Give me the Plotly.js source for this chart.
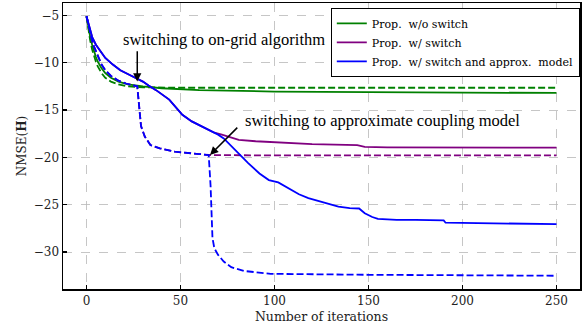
<!DOCTYPE html>
<html>
<head>
<meta charset="utf-8">
<script src="https://cdn.plot.ly/plotly-3.0.1.min.js"></script>
<style>html,body{margin:0;padding:0;background:#fff;}#chart{width:587px;height:326px;}</style>
</head>
<body>
<div id="chart"></div>
<script>
// Prop. w/o switch
const greenSolidX = [0,1,2,3,4,5,6,8,10,13,17,22,30,40,60,100,150,200,250];
const greenSolidY = [-5.1,-6.3,-7.3,-8.1,-8.8,-9.4,-9.9,-10.6,-11.1,-11.6,-12.0,-12.3,-12.5,-12.7,-12.9,-13.05,-13.12,-13.17,-13.2];
const greenDashX = [0,1,2,3,4,5,6,8,10,13,17,22,30,50,100,250];
const greenDashY = [-5.1,-6.6,-7.7,-8.6,-9.3,-9.9,-10.4,-11.1,-11.6,-12.0,-12.3,-12.5,-12.6,-12.65,-12.65,-12.65];

// Prop. w/ switch
const purpleSolidX = [0,1,2,3,5,7,10,14,18,23,27,30,33,37,44,51,56,63,65,68,72,76,81,90,102,120,144,148,160,250];
const purpleSolidY = [-5.1,-5.9,-6.7,-7.3,-8.1,-8.7,-9.5,-10.2,-10.8,-11.3,-11.7,-12.0,-12.4,-12.9,-13.9,-15.5,-16.2,-16.9,-17.1,-17.4,-17.6,-17.85,-18.15,-18.3,-18.45,-18.6,-18.7,-18.9,-18.95,-18.97];
const purpleDashX = [0,1,2,3,4,6,8,10,13,17,21,27,28,29,31,34,39,47,60,65,100,150,200,250];
const purpleDashY = [-5.1,-6.0,-6.9,-7.7,-8.3,-9.3,-10.2,-10.8,-11.4,-11.9,-12.2,-12.5,-15.0,-16.7,-17.8,-18.7,-19.05,-19.4,-19.65,-19.75,-19.8,-19.8,-19.8,-19.8];

// Prop. w/ switch and approx. model
const blueSolidX = [0,1,2,3,5,7,10,14,18,23,27,30,33,37,44,51,56,63,65,70,73,76,81,86,92,97,102,108,113,118,123,128,134,140,145,148,152,155,165,175,190,191,220,250];
const blueSolidY = [-5.1,-5.9,-6.7,-7.3,-8.1,-8.7,-9.5,-10.2,-10.8,-11.3,-11.7,-12.0,-12.4,-12.9,-13.9,-15.5,-16.2,-16.9,-17.1,-17.6,-18.0,-18.6,-19.7,-20.6,-21.7,-22.4,-22.65,-23.3,-23.9,-24.3,-24.6,-24.9,-25.2,-25.35,-25.4,-25.9,-26.3,-26.5,-26.6,-26.6,-26.65,-26.9,-27.0,-27.05];
const blueDashX = [0,1,2,3,4,6,8,10,13,17,21,27,28,29,31,34,39,47,60,65,66,67,68,70,73,77,84,98,150,200,250];
const blueDashY = [-5.1,-6.0,-6.9,-7.7,-8.3,-9.3,-10.2,-10.8,-11.4,-11.9,-12.2,-12.5,-15.0,-16.7,-17.8,-18.7,-19.05,-19.4,-19.65,-19.75,-23.0,-28.5,-29.6,-30.3,-31.0,-31.6,-32.0,-32.3,-32.4,-32.45,-32.5];

const seriesNames = ['Prop.  w/o switch','Prop.  w/ switch','Prop.  w/ switch and approx.  model'];
const xTicks = [0,50,100,150,200,250];
const yTicks = [-30,-25,-20,-15,-10,-5];

const GREEN = '#008000', PURPLE = '#800080', BLUE = '#0000ff';
const LW = 1.8, DASH = '7px,3px';

const traces = [
  {x: greenSolidX, y: greenSolidY, mode: 'lines', name: seriesNames[0], line: {color: GREEN, width: LW}},
  {x: greenDashX, y: greenDashY, mode: 'lines', showlegend: false, line: {color: GREEN, width: LW, dash: DASH}},
  {x: purpleSolidX, y: purpleSolidY, mode: 'lines', name: seriesNames[1], line: {color: PURPLE, width: LW}},
  {x: purpleDashX, y: purpleDashY, mode: 'lines', showlegend: false, line: {color: PURPLE, width: LW, dash: DASH}},
  {x: blueSolidX, y: blueSolidY, mode: 'lines', name: seriesNames[2], line: {color: BLUE, width: LW}},
  {x: blueDashX, y: blueDashY, mode: 'lines', showlegend: false, line: {color: BLUE, width: LW, dash: DASH}}
];

const serif = 'DejaVu Serif, serif';
const times = 'Liberation Serif, Times New Roman, serif';

const layout = {
  width: 587, height: 326,
  margin: {l: 63, r: 7, t: 3, b: 37},
  paper_bgcolor: '#fff', plot_bgcolor: '#fff',
  showlegend: true,
  legend: {
    x: 0.518, y: 0.983, xanchor: 'left', yanchor: 'top',
    bgcolor: '#fff', bordercolor: '#000', borderwidth: 1,
    font: {family: serif, size: 11, color: '#000'},
    tracegroupgap: 0, itemwidth: 30
  },
  xaxis: {
    range: [-12.5, 262.5], tickvals: xTicks, ticktext: xTicks.map(String),
    showgrid: true, gridcolor: '#b8b8b8', griddash: 'dash', gridwidth: 0.8,
    zeroline: false, showline: true, mirror: true, linecolor: '#000', linewidth: 1.5,
    ticks: 'inside', ticklen: 4, tickwidth: 1.5, tickcolor: '#000',
    tickfont: {family: serif, size: 12, color: '#222'},
    title: {text: 'Number of iterations', font: {family: serif, size: 12.5, color: '#222'}, standoff: 5}
  },
  yaxis: {
    range: [-33.9, -3.7], tickvals: yTicks,
    showgrid: true, gridcolor: '#b8b8b8', griddash: 'dash', gridwidth: 0.8,
    zeroline: false, showline: true, mirror: true, linecolor: '#000', linewidth: 1.5,
    ticks: 'inside', ticklen: 4, tickwidth: 1.5, tickcolor: '#000',
    tickfont: {family: serif, size: 12, color: '#222'},
    title: {text: 'NMSE(<b>H</b>)', font: {family: serif, size: 12, color: '#222'}, standoff: 4}
  },
  annotations: [
    {x: 73.4, y: -7.57, xref: 'x', yref: 'y', text: 'switching to on-grid algorithm', showarrow: false,
     font: {family: times, size: 16.5, color: '#000'}},
    {x: 157.6, y: -16.15, xref: 'x', yref: 'y', text: 'switching to approximate coupling model', showarrow: false,
     font: {family: times, size: 16.5, color: '#000'}},
    {x: 27, y: -12.0, ax: 27, ay: -8.64, xref: 'x', yref: 'y', axref: 'x', ayref: 'y', text: '',
     showarrow: true, arrowhead: 2, arrowsize: 1.1, arrowwidth: 1.5, arrowcolor: '#000', standoff: 0, startstandoff: 0},
    {x: 65.7, y: -19.75, ax: 81, ay: -16.7, xref: 'x', yref: 'y', axref: 'x', ayref: 'y', text: '',
     showarrow: true, arrowhead: 2, arrowsize: 1.1, arrowwidth: 1.5, arrowcolor: '#000', standoff: 0, startstandoff: 0}
  ]
};

Plotly.newPlot('chart', traces, layout, {staticPlot: true, displayModeBar: false});
</script>
</body>
</html>
